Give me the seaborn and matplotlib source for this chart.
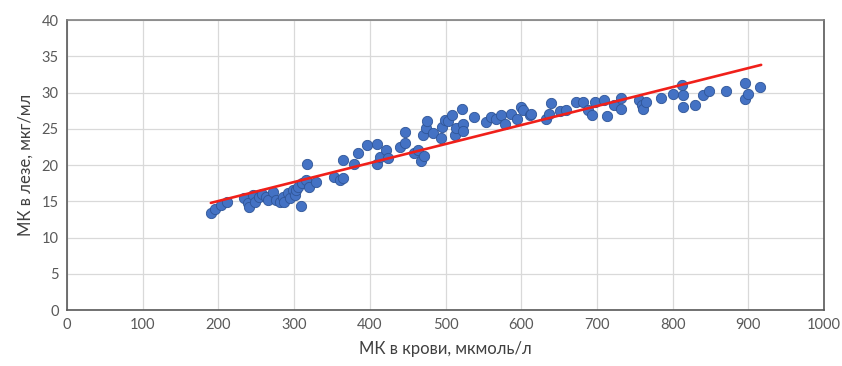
import numpy as np
import pandas as pd
import matplotlib
matplotlib.use("Agg")
import matplotlib.pyplot as plt
import seaborn as sns

# Uric acid: blood concentration vs. gland concentration
blood_uric = [
    190, 195, 204, 212, 234, 239, 241, 246, 248, 254, 258, 263, 265, 272, 276,
    281, 285, 287, 292, 295, 298, 301, 303, 305, 309, 311, 316, 317, 320, 329,
    353, 360, 364, 365, 379, 385, 396, 410, 410, 414, 422, 424, 440, 447, 447,
    459, 464, 468, 471, 470, 474, 475, 484, 494, 496, 499, 503, 509, 512, 514,
    522, 523, 523, 537, 554, 560, 567, 573, 578, 587, 594, 600, 602, 611, 613,
    633, 637, 639, 651, 659, 673, 681, 688, 693, 697, 710, 713, 723, 732, 732,
    756, 759, 761, 765, 785, 800, 813, 814, 814, 829, 840, 848, 871, 895, 896,
    899, 916,
]
gland_uric = [
    13.4, 14.0, 14.5, 14.9, 15.4, 14.7, 14.2, 15.9, 14.9, 15.6, 16.0, 15.6, 15.2, 16.3, 15.2,
    14.9, 15.6, 14.9, 16.1, 15.4, 16.6, 15.9, 16.6, 17.0, 14.3, 17.5, 17.9, 20.1, 17.0, 17.7,
    18.4, 17.9, 18.2, 20.7, 20.2, 21.6, 22.8, 22.9, 20.2, 21.1, 22.1, 21.0, 22.5, 23.0, 24.6,
    21.6, 22.1, 20.5, 21.3, 24.1, 25.1, 26.1, 24.4, 23.7, 25.3, 26.2, 26.1, 26.9, 24.1, 25.1,
    27.7, 25.7, 24.7, 26.7, 26.0, 26.7, 26.4, 26.9, 25.7, 27.1, 26.4, 28.0, 27.6, 26.9, 27.1,
    26.4, 27.1, 28.6, 27.4, 27.6, 28.7, 28.7, 27.6, 26.9, 28.7, 29.0, 26.8, 28.3, 29.2, 27.8,
    29.0, 28.3, 27.8, 28.7, 29.2, 29.8, 31.0, 29.7, 28.0, 28.3, 29.7, 30.2, 30.2, 29.1, 31.3,
    29.8, 30.8,
]

# Linear trend: gland = slope * blood + intercept
trend_slope = 0.0262
trend_intercept = 9.8
trend_range = [190, 917]

x_ticks = list(range(0, 1001, 100))
y_ticks = list(range(0, 41, 5))
x_label = "МК в крови, мкмоль/л"
y_label = "МК в лезе, мкг/мл"

points = pd.DataFrame({"blood": blood_uric, "gland": gland_uric})
trend = pd.DataFrame({"blood": trend_range})
trend["gland"] = trend_slope * trend["blood"] + trend_intercept

sns.set_theme(style="white")
plt.rcParams["font.family"] = ["Lato", "DejaVu Sans"]

fig = plt.figure(figsize=(8.42, 3.66), dpi=100)
ax = fig.add_axes([0.0796, 0.153, 0.899, 0.792])

sns.scatterplot(data=points, x="blood", y="gland", ax=ax, s=55,
                color="#4472C4", edgecolor="#2F5597", linewidth=0.6, zorder=3)
sns.lineplot(data=trend, x="blood", y="gland", ax=ax, color="#F0201A",
             linewidth=1.9, zorder=4)

ax.set_xlim(0, 1000)
ax.set_ylim(0, 40)
ax.set_xticks(x_ticks)
ax.set_yticks(y_ticks)
ax.grid(True, color="#D9D9D9", linewidth=0.9)
ax.set_axisbelow(True)
for name, side in ax.spines.items():
    side.set_visible(True)
    side.set_color("#808080" if name == "top" else "#595959")
    side.set_linewidth(1.2)

ax.tick_params(axis="both", length=0, labelsize=10.5, labelcolor="#595959", pad=6)
ax.set_xlabel(x_label, fontsize=12, color="#404040", labelpad=6)
ax.set_ylabel(y_label, fontsize=12, color="#404040", labelpad=6)

fig.savefig("out.png", dpi=100)
